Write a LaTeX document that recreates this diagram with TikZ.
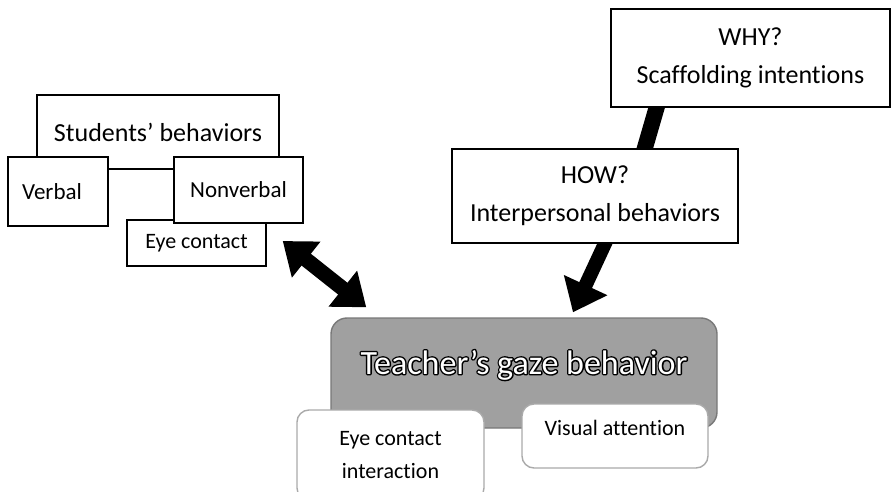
\documentclass[tikz,border=0pt]{standalone}
\usepackage{fontspec}
\setmainfont{Carlito}[Ligatures={TeX,NoCommon}]
\usetikzlibrary{arrows.meta,backgrounds}

\definecolor{gazefill}{RGB}{160,160,160}
\definecolor{gazeedge}{RGB}{120,120,120}
\definecolor{softedge}{RGB}{170,170,170}

\newcommand{\outlinedtext}[1]{{\color{black}\special{pdf:literal direct 2 Tr 2.8 w 1 j}\rlap{#1}\special{pdf:literal direct 0 Tr}}{\color{white}#1}}

\tikzset{
  sqbox/.style={draw=black, line width=1.4pt, fill=white, inner sep=0pt},
  rndbox/.style={draw=softedge, line width=1.4pt, fill=white, rounded corners=12pt, inner sep=0pt},
  bigfont/.style={font=\fontsize{26}{38}\selectfont},
  midfont/.style={font=\fontsize{23}{30}\selectfont},
  smallfont/.style={font=\fontsize{22}{33}\selectfont},
  gazefont/.style={font=\fontsize{34}{38}\selectfont},
  fatarrow/.style={line width=14pt, -{Triangle[length=30pt,width=46pt]}},
  fatline/.style={line width=16pt},
}

\begin{document}
\begin{tikzpicture}[x=1pt,y=-1pt]
\useasboundingbox (0,0) rectangle (892,492);

\node[sqbox, bigfont, minimum width=242pt, minimum height=74pt] (students) at (158,132) {Students' behaviors};
\node[sqbox, midfont, minimum width=100pt, minimum height=69pt] (verbal) at (58,191.5) {Verbal\hspace*{12pt}};
\node[sqbox, smallfont, minimum width=139pt, minimum height=46pt] (eyec) at (196.5,243) {Eye contact};
\node[sqbox, midfont, minimum width=129pt, minimum height=66pt] (nonverbal) at (238.5,190) {Nonverbal};

\node[sqbox, bigfont, align=center, minimum width=279pt, minimum height=98pt] (why) at (750.5,58) {WHY?\\Scaffolding intentions};
\node[sqbox, bigfont, align=center, minimum width=286pt, minimum height=94pt] (how) at (595,196) {HOW?\\Interpersonal behaviors};

\node[draw=gazeedge, fill=gazefill, line width=1.4pt, rounded corners=16pt, minimum width=386pt, minimum height=110pt] (teacher) at (524,373) {};
\node[gazefont] (gazetext) at ([yshift=8pt]teacher.center) {\outlinedtext{Teacher's gaze behavior}};

\node[rndbox, smallfont, minimum width=186pt, minimum height=64pt] (visual) at (615,436) {\raisebox{8pt}[\height][\depth]{Visual attention}};
\node[rndbox, smallfont, align=center, minimum width=187pt, minimum height=90pt] (eyeint) at (390.5,455) {Eye contact\\interaction};

\begin{pgfonlayer}{background}
\draw[fatline] ([xshift=-91pt,yshift=10pt]why.south) -- ([xshift=44pt,yshift=-20pt]how.north);
\draw[fatarrow] ([xshift=15pt,yshift=11pt]how.south) -- ([xshift=49pt,yshift=5pt]teacher.north);
\end{pgfonlayer}

\draw[line width=15pt, {Triangle[length=30pt,width=44pt]}-{Triangle[length=30pt,width=44pt]}] ([xshift=16pt,yshift=2pt]eyec.east) -- ([xshift=36pt,yshift=10pt]teacher.north west);
\end{tikzpicture}
\end{document}
